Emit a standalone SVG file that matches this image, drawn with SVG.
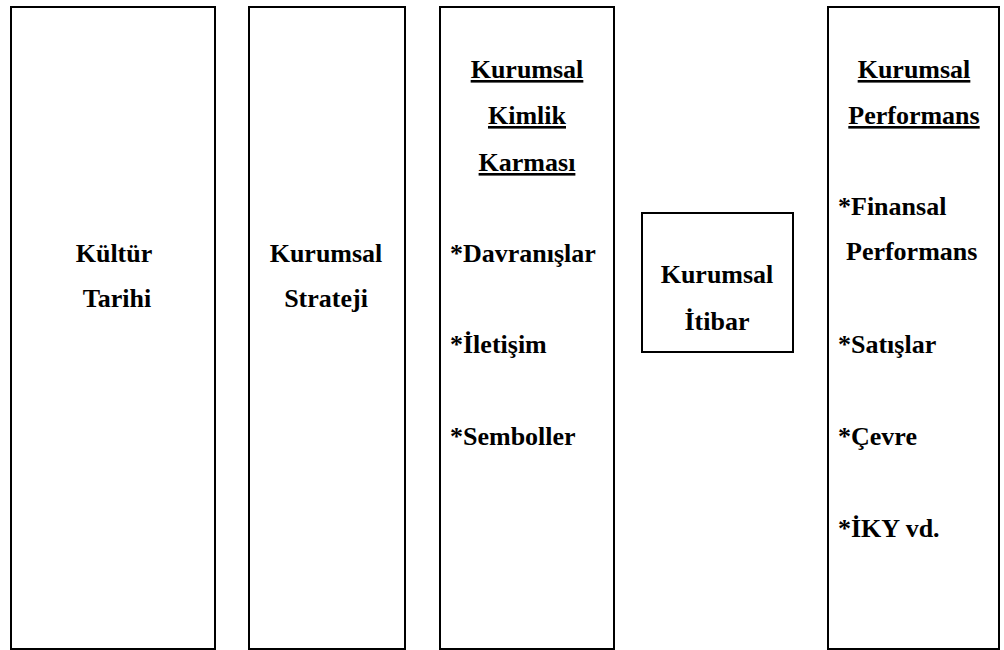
<svg xmlns="http://www.w3.org/2000/svg" width="1004" height="650" viewBox="0 0 1004 650">
<style>
rect.box{fill:#fff;stroke:#000;stroke-width:2}
.c{text-anchor:middle}
.u{text-decoration:underline}
</style>
<rect width="1004" height="650" fill="#fff"/>
<g font-family="Liberation Serif, Times New Roman, DejaVu Serif, serif" font-weight="bold" font-size="26" fill="#000">
<g id="kultur">
<rect class="box" x="11" y="7" width="204" height="642"/>
<text class="c" x="114" y="262">Kültür</text>
<text class="c" x="117" y="307">Tarihi</text>
</g>
<g id="strateji">
<rect class="box" x="249" y="7" width="156" height="642"/>
<text class="c" x="326" y="262">Kurumsal</text>
<text class="c" x="326" y="307">Strateji</text>
</g>
<g id="kimlik">
<rect class="box" x="440" y="7" width="174" height="642"/>
<text class="c u" x="527" y="78">Kurumsal</text>
<text class="c u" x="527" y="124">Kimlik</text>
<text class="c u" x="527" y="171">Karması</text>
<text x="450" y="262">*Davranışlar</text>
<text x="450" y="353">*İletişim</text>
<text x="450" y="445">*Semboller</text>
</g>
<g id="itibar">
<rect class="box" x="642" y="213" width="151" height="139"/>
<text class="c" x="717" y="283">Kurumsal</text>
<text class="c" x="717" y="330">İtibar</text>
</g>
<g id="performans">
<rect class="box" x="828" y="7" width="171" height="642"/>
<text class="c u" x="914" y="78">Kurumsal</text>
<text class="c u" x="914" y="124">Performans</text>
<text x="838" y="215">*Finansal</text>
<text x="846" y="260">Performans</text>
<text x="838" y="353">*Satışlar</text>
<text x="838" y="445">*Çevre</text>
<text x="838" y="537">*İKY vd.</text>
</g>
</g>
<g id="connectors"></g>
</svg>
